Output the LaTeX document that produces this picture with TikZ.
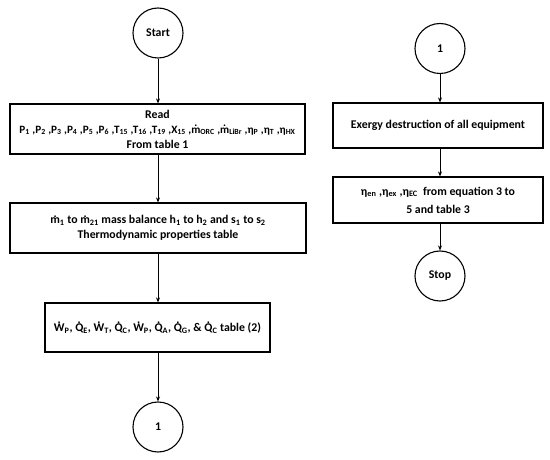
\documentclass[tikz,border=0pt]{standalone}
\usepackage{fontspec}
\setmainfont{Carlito}
\usetikzlibrary{arrows.meta}
\newcommand\dt[1]{\leavevmode\setbox0\hbox{#1}\rlap{\raise\dimexpr\ht0+0.06em\relax\hbox to\wd0{\hss.\hss}}\box0}
\newcommand\sbs[1]{\textsubscript{#1}}
\tikzset{
  flowbox/.style={draw=black, line width=1.2pt, rectangle, align=center, inner sep=2pt, font=\bfseries\fontsize{11.8}{15}\selectfont},
  term/.style={draw=black, line width=1.1pt, circle, minimum size=50pt, inner sep=0pt, font=\bfseries\fontsize{11.8}{13}\selectfont},
  flow/.style={draw=black, line width=0.9pt, -{Stealth[length=5pt,width=4pt]}}
}
\begin{document}
\begin{tikzpicture}[x=1pt,y=-1pt]
\useasboundingbox (0,0) rectangle (550,460);
\fill[white] (0,0) rectangle (550,460);
\node[term] (start) at (158,33) {Start};
\node[flowbox, minimum width=295pt, minimum height=50pt] (read) at (157.5,129)
 {Read\\{\fontsize{11.2}{15}\selectfont P\sbs{1} ,P\sbs{2} ,P\sbs{3} ,P\sbs{4} ,P\sbs{5} ,P\sbs{6} ,T\sbs{15} ,T\sbs{16} ,T\sbs{19} ,X\sbs{15} ,\dt{m}\sbs{ORC} ,\dt{m}\sbs{LiBr} ,η\sbs{P} ,η\sbs{T} ,η\sbs{HX}}\\From table 1};
\node[flowbox, minimum width=296pt, minimum height=50pt] (mass) at (158,228)
 {\dt{m}\sbs{1} to \dt{m}\sbs{21} mass balance h\sbs{1} to h\sbs{2} and s\sbs{1} to s\sbs{2}\\Thermodynamic properties table};
\node[flowbox, minimum width=225pt, minimum height=49pt] (work) at (157.5,327.5)
 {\dt{W}\sbs{P}, \dt{Q}\sbs{E}, \dt{W}\sbs{T}, \dt{Q}\sbs{C}, \dt{W}\sbs{P}, \dt{Q}\sbs{A}, \dt{Q}\sbs{G}, \& \dt{Q}\sbs{C} table (2)};
\node[term] (c1) at (158,427) {1};
\node[term] (c2) at (440,48.5) {1};
\node[flowbox, minimum width=210pt, minimum height=45pt] (exergy) at (438,125.5)
 {Exergy destruction of all equipment};
\node[flowbox, minimum width=210pt, minimum height=46pt, font=\bfseries\fontsize{11.8}{18}\selectfont] (eff) at (438,200)
 {η\sbs{en} ,η\sbs{ex} ,η\sbs{EC}\ \ from equation 3 to\\5 and table 3};
\node[term] (stop) at (440,276) {Stop};
\draw[flow] (start) -- (start |- read.north);
\draw[flow] (read.south -| start) -- (mass.north -| start);
\draw[flow] (mass.south -| start) -- (work.north -| start);
\draw[flow] (work.south -| start) -- (c1);
\draw[flow] (c2) -- (c2 |- exergy.north);
\draw[flow] (exergy.south -| c2) -- (eff.north -| c2);
\draw[flow] (eff.south -| c2) -- (stop);
\end{tikzpicture}
\end{document}
